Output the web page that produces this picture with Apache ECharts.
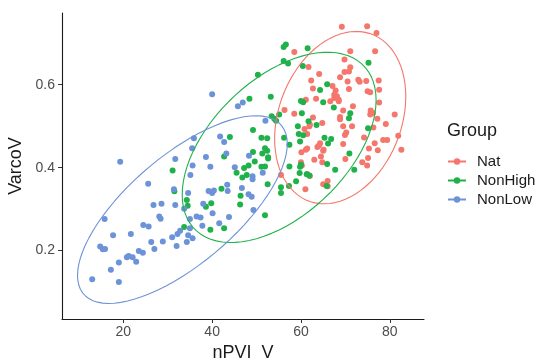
<!DOCTYPE html>
<html>
<head>
<meta charset="utf-8">
<script src="https://cdn.jsdelivr.net/npm/echarts@6/dist/echarts.min.js"></script>
<style>
  html, body { margin: 0; padding: 0; background: #fff; }
  #chart { width: 542px; height: 361px; }
</style>
</head>
<body>
<div id="chart"></div>
<script>
// Group colours (ggplot hue palette)
const COLOR_NAT = '#F5766C'
const COLOR_NONHIGH = '#20B24A'
const COLOR_NONLOW = '#6C93D8'

const groups = ['Nat', 'NonHigh', 'NonLow']
const xTicks = [20, 40, 60, 80]
const yTicks = [0.2, 0.4, 0.6]

// [nPVI_V, VarcoV]
const natPoints = [
  [69.2, 0.740], [74.9, 0.741], [77.0, 0.725], [58.5, 0.679], [71.1, 0.681], [76.7, 0.681],
  [61.7, 0.643], [69.8, 0.661], [64.1, 0.626], [71.1, 0.642], [70.8, 0.632], [69.8, 0.631],
  [68.8, 0.618], [62.3, 0.610], [70.5, 0.608], [72.9, 0.612], [73.2, 0.607], [74.7, 0.609],
  [77.5, 0.610], [62.7, 0.591], [67.1, 0.597], [67.8, 0.586], [70.8, 0.590], [75.0, 0.584],
  [75.6, 0.582], [77.6, 0.588], [68.1, 0.572], [68.5, 0.564], [67.5, 0.568], [66.6, 0.560],
  [68.5, 0.560], [63.4, 0.566], [77.6, 0.557], [69.5, 0.538], [71.7, 0.548], [75.7, 0.538],
  [76.2, 0.532], [75.6, 0.528], [81.1, 0.528], [56.3, 0.539], [58.5, 0.530], [68.8, 0.522],
  [62.7, 0.521], [61.1, 0.564], [67.5, 0.576], [68.8, 0.517], [77.2, 0.518], [61.9, 0.500],
  [64.8, 0.508], [69.5, 0.500], [71.5, 0.500], [76.3, 0.497], [79.1, 0.505], [61.4, 0.481],
  [70.2, 0.485], [69.9, 0.479], [74.2, 0.473], [78.5, 0.467], [79.4, 0.467], [81.9, 0.477],
  [64.3, 0.459], [64.1, 0.454], [69.5, 0.457], [76.6, 0.459], [61.4, 0.446], [65.1, 0.443],
  [75.3, 0.446], [82.6, 0.443], [64.5, 0.427], [63.0, 0.419], [64.8, 0.413], [70.0, 0.421],
  [77.3, 0.442], [73.8, 0.413], [74.9, 0.405], [60.0, 0.413], [60.2, 0.405], [55.5, 0.382],
  [61.4, 0.385], [62.0, 0.380], [65.0, 0.360], [66.0, 0.368], [66.0, 0.355], [61.0, 0.348],
  [61.1, 0.443], [65.0, 0.441], [75.1, 0.423], [62.0, 0.504], [60.8, 0.493], [63.7, 0.450],
  [60.1, 0.437]
]

const nonHighPoints = [
  [31.1, 0.393], [31.5, 0.343], [34.3, 0.322], [34.5, 0.308], [33.7, 0.257], [48.4, 0.566],
  [53.2, 0.571], [53.4, 0.524], [54.0, 0.518], [54.4, 0.513], [55.1, 0.528], [49.2, 0.491],
  [51.1, 0.472], [52.4, 0.471], [44.0, 0.474], [42.7, 0.427], [51.9, 0.447], [52.4, 0.441],
  [52.6, 0.425], [49.2, 0.438], [51.3, 0.434], [49.6, 0.415], [48.2, 0.405], [51.1, 0.402],
  [51.9, 0.403], [45.5, 0.388], [46.8, 0.376], [47.8, 0.382], [52.5, 0.360], [42.1, 0.349],
  [46.4, 0.332], [39.8, 0.314], [38.6, 0.306], [46.3, 0.311], [51.9, 0.285], [42.7, 0.254],
  [39.6, 0.250], [55.5, 0.353], [55.5, 0.339], [57.3, 0.356], [57.4, 0.455], [56.2, 0.472],
  [58.9, 0.367], [65.8, 0.356], [60.0, 0.407], [59.8, 0.402], [59.7, 0.387], [61.9, 0.381],
  [61.3, 0.384], [65.9, 0.409], [67.7, 0.395], [70.9, 0.434], [72.0, 0.395], [56.1, 0.691],
  [56.6, 0.697], [61.5, 0.688], [56.1, 0.657], [57.1, 0.651], [60.4, 0.645], [50.3, 0.624],
  [75.2, 0.653], [65.9, 0.601], [64.3, 0.587], [60.0, 0.561], [60.5, 0.558], [65.0, 0.558],
  [67.4, 0.545], [60.2, 0.531], [61.7, 0.512], [63.5, 0.503], [71.1, 0.531], [70.8, 0.519],
  [59.3, 0.500], [59.5, 0.481], [60.5, 0.478], [65.3, 0.472], [66.8, 0.469], [66.1, 0.458],
  [75.1, 0.495], [59.8, 0.463], [57.4, 0.403], [52.6, 0.422], [47.2, 0.399]
]

const nonLowPoints = [
  [19.3, 0.414], [31.7, 0.421], [35.6, 0.405], [35.1, 0.382], [25.6, 0.361], [31.4, 0.348],
  [34.6, 0.339], [26.8, 0.310], [28.6, 0.313], [31.7, 0.310], [33.7, 0.301], [28.1, 0.282],
  [28.4, 0.277], [15.8, 0.276], [36.5, 0.282], [35.0, 0.276], [24.5, 0.262], [25.7, 0.258],
  [17.7, 0.237], [21.7, 0.240], [32.8, 0.248], [32.2, 0.240], [31.0, 0.232], [34.6, 0.237],
  [35.6, 0.230], [34.3, 0.221], [28.9, 0.222], [26.3, 0.221], [32.0, 0.211], [27.0, 0.204],
  [14.8, 0.210], [15.4, 0.203], [15.9, 0.204], [23.5, 0.199], [24.4, 0.195], [21.2, 0.187],
  [22.1, 0.184], [22.9, 0.173], [20.8, 0.184], [19.0, 0.171], [17.2, 0.154], [13.0, 0.131],
  [19.0, 0.124], [40.0, 0.577], [45.8, 0.548], [46.9, 0.557], [52.0, 0.513], [41.8, 0.475],
  [42.7, 0.462], [35.9, 0.471], [35.5, 0.447], [43.2, 0.434], [48.3, 0.429], [38.6, 0.426],
  [39.6, 0.402], [45.1, 0.401], [49.1, 0.379], [49.1, 0.372], [51.4, 0.388], [43.4, 0.359],
  [43.5, 0.344], [39.2, 0.344], [40.4, 0.345], [40.0, 0.339], [46.7, 0.351], [48.2, 0.336],
  [48.9, 0.330], [38.0, 0.313], [40.1, 0.290], [37.4, 0.280], [35.0, 0.254], [37.8, 0.260],
  [41.6, 0.266], [43.8, 0.281], [49.3, 0.298]
]

// robust location/scatter like MASS::cov.trob (multivariate t, nu = 5)
function covTrob(pts, nu = 5, maxit = 50, tol = 0.01) {
  const n = pts.length
  let w = pts.map(() => 1)
  let lx = 0, ly = 0
  for (const p of pts) { lx += p[0]; ly += p[1] }
  lx /= n; ly /= n
  const scatter = (ws) => {
    let sw = 0, a = 0, b = 0, c = 0
    pts.forEach((p, i) => {
      const dx = p[0] - lx, dy = p[1] - ly
      sw += ws[i]; a += ws[i] * dx * dx; b += ws[i] * dx * dy; c += ws[i] * dy * dy
    })
    return [a, b, c, sw]
  }
  for (let it = 0; it < maxit; it++) {
    const w0 = w
    const [a, b, c, sw] = scatter(w)
    const sxx = a / sw, sxy = b / sw, syy = c / sw
    const det = sxx * syy - sxy * sxy
    w = pts.map((p) => {
      const dx = p[0] - lx, dy = p[1] - ly
      const q = (syy * dx * dx - 2 * sxy * dx * dy + sxx * dy * dy) / det
      return (nu + 2) / (nu + q)
    })
    let sw2 = 0, mx = 0, my = 0
    pts.forEach((p, i) => { sw2 += w[i]; mx += w[i] * p[0]; my += w[i] * p[1] })
    lx = mx / sw2; ly = my / sw2
    if (w.every((v, i) => Math.abs(v - w0[i]) < tol)) break
  }
  const [a, b, c] = scatter(w)
  return { center: [lx, ly], sxx: a / n, sxy: b / n, syy: c / n }
}

// 95% data ellipse, same construction as ggplot's stat_ellipse (type "t")
function dataEllipse(pts, level = 0.95, segments = 80) {
  const n = pts.length
  const { center, sxx, sxy, syy } = covTrob(pts)
  const d = n - 1
  const fq = (d / 2) * (Math.pow(1 - level, -2 / d) - 1)
  const r = Math.sqrt(2 * fq)
  const a = Math.sqrt(sxx)
  const b = sxy / a
  const c = Math.sqrt(syy - b * b)
  const out = []
  for (let i = 0; i <= segments; i++) {
    const t = (i / segments) * Math.PI * 2
    const u = Math.cos(t), v = Math.sin(t)
    out.push([center[0] + r * a * u, center[1] + r * (b * u + c * v)])
  }
  return out
}

const FONT = 'Liberation Sans, Arial, sans-serif'
const colors = [COLOR_NAT, COLOR_NONHIGH, COLOR_NONLOW]
const pointSets = [natPoints, nonHighPoints, nonLowPoints]

const chart = echarts.init(document.getElementById('chart'))

const ellipseSeries = groups.map((g, i) => ({
  name: g,
  type: 'line',
  data: dataEllipse(pointSets[i]),
  showSymbol: false,
  symbol: 'circle',
  symbolSize: 6,
  smooth: false,
  silent: true,
  lineStyle: { color: colors[i], width: 1.1 },
  itemStyle: { color: colors[i] },
  z: 3,
}))

const pointSeries = groups.map((g, i) => ({
  name: g,
  type: 'scatter',
  data: pointSets[i],
  symbolSize: 6,
  itemStyle: { color: colors[i], opacity: 1 },
  z: 2,
}))

chart.setOption({
  animation: false,
  textStyle: { fontFamily: FONT },
  grid: { left: 62, right: 118, top: 13, bottom: 42, containLabel: false, outerBoundsMode: 'none' },
  title: {
    text: 'Group',
    left: 442,
    top: 117,
    textStyle: { fontFamily: FONT, fontSize: 18, fontWeight: 'normal', color: '#1a1a1a' },
  },
  legend: {
    data: groups,
    orient: 'vertical',
    left: 442,
    top: 149,
    itemWidth: 18,
    itemHeight: 8,
    itemGap: 4,
    textStyle: { fontFamily: FONT, fontSize: 15, color: '#1a1a1a', padding: [0, 0, 0, 6] },
  },
  xAxis: {
    type: 'value',
    min: 6.2,
    max: 87.7,
    name: 'nPVI_V',
    nameLocation: 'middle',
    nameGap: 22,
    nameTextStyle: { fontFamily: FONT, fontSize: 18, color: '#1a1a1a' },
    axisLine: { show: true, onZero: false, lineStyle: { color: '#1a1a1a', width: 1.1 } },
    axisTick: { show: true, length: 4, customValues: xTicks, lineStyle: { color: '#333' } },
    axisLabel: { customValues: xTicks, fontSize: 14, color: '#4d4d4d', margin: 6 },
    splitLine: { show: false },
  },
  yAxis: {
    type: 'value',
    min: 0.035,
    max: 0.773,
    name: 'VarcoV',
    nameLocation: 'middle',
    nameGap: 25,
    nameRotate: 90,
    nameTextStyle: { fontFamily: FONT, fontSize: 18, color: '#1a1a1a' },
    axisLine: { show: true, onZero: false, lineStyle: { color: '#1a1a1a', width: 1.1 } },
    axisTick: { show: true, length: 4, customValues: yTicks, lineStyle: { color: '#333' } },
    axisLabel: {
      customValues: yTicks,
      fontSize: 14,
      color: '#4d4d4d',
      margin: 7,
      formatter: (v) => v.toFixed(1),
    },
    splitLine: { show: false },
  },
  series: [...ellipseSeries, ...pointSeries],
})
</script>
</body>
</html>
